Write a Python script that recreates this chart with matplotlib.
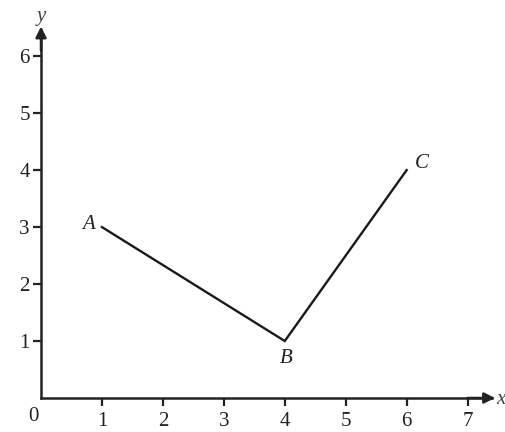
import matplotlib
matplotlib.use("Agg")
import matplotlib.pyplot as plt

# path A -> B -> C
pt_names = ["A", "B", "C"]
pt_x = [1, 4, 6]
pt_y = [3, 1, 4]

xticks = [1, 2, 3, 4, 5, 6, 7]
yticks = [1, 2, 3, 4, 5, 6]

plt.rcParams['font.family'] = ['Liberation Serif', 'DejaVu Serif']

fig = plt.figure(figsize=(5.05, 4.32), dpi=100)
ax = fig.add_axes([0.0812, 0.0787, 0.893, 0.852])
ax.set_xlim(0, 7.4)
ax.set_ylim(0, 6.46)

ax.plot(pt_x, pt_y, color='#1a1a1a', lw=1.7, solid_joinstyle='miter')

# point labels
offsets = {"A": (-0.22, 0.05), "B": (0.02, -0.3), "C": (0.25, 0.12)}
for n, x, y in zip(pt_names, pt_x, pt_y):
    dx, dy = offsets[n]
    ax.text(x + dx, y + dy, n, fontsize=15, style='italic', ha='center', va='center', color='#222222')

for s in ['top', 'right']:
    ax.spines[s].set_visible(False)
for s in ['left', 'bottom']:
    ax.spines[s].set_linewidth(1.8)
    ax.spines[s].set_color('#222222')

ax.set_xticks(xticks)
ax.set_yticks(yticks)
ax.tick_params(axis='both', direction='out', length=6, width=1.6, color='#222222',
               labelsize=15, labelcolor='#222222')
ax.tick_params(axis='x', pad=4)
ax.tick_params(axis='y', pad=2)

# axis arrows
ax.annotate('', xy=(7.45, 0), xytext=(7.0, 0), xycoords='data',
            arrowprops=dict(arrowstyle='-|>', color='#222222', lw=1.8, mutation_scale=16,
                            shrinkA=0, shrinkB=0), annotation_clip=False)
ax.annotate('', xy=(0, 6.52), xytext=(0, 6.1), xycoords='data',
            arrowprops=dict(arrowstyle='-|>', color='#222222', lw=1.8, mutation_scale=16,
                            shrinkA=0, shrinkB=0), annotation_clip=False)

ax.text(-0.13, -0.16, '0', fontsize=15, ha='center', va='top', color='#222222')
ax.text(0.0, 6.7, 'y', fontsize=15, style='italic', ha='center', va='center', color='#444444')
ax.text(7.47, -0.02, 'x', fontsize=15, style='italic', ha='left', va='center', color='#444444')

fig.savefig('out.png', dpi=100)
